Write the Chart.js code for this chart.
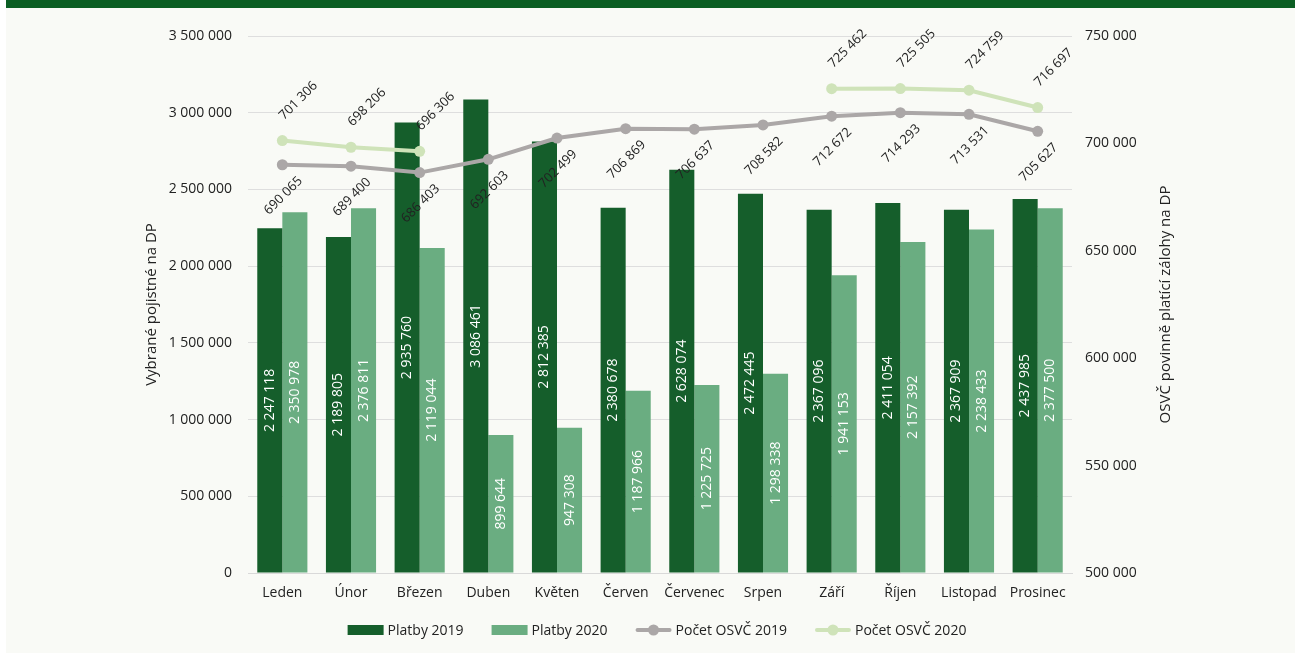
<!DOCTYPE html>
<html><head><meta charset="utf-8">
<script src="https://cdn.jsdelivr.net/npm/chart.js@4/dist/chart.umd.min.js"></script>
<style>
html,body{margin:0;padding:0;background:#fff;}
#wrap{position:absolute;left:6px;top:0;width:1289px;height:653px;background:#f9faf6;}
#band{position:absolute;left:6px;top:0;width:1289px;height:8px;background:#0b5e23;}
canvas{position:absolute;left:0;top:0;}
</style></head>
<body>
<div id="wrap"></div>
<div id="band"></div>
<canvas id="c" width="1295" height="653"></canvas>
<script>
const months = ['Leden','Únor','Březen','Duben','Květen','Červen','Červenec','Srpen','Září','Říjen','Listopad','Prosinec'];
const platby2019 = [2247118,2189805,2935760,3086461,2812385,2380678,2628074,2472445,2367096,2411054,2367909,2437985];
const platby2020 = [2350978,2376811,2119044,899644,947308,1187966,1225725,1298338,1941153,2157392,2238433,2377500];
const osvc2019 = [690065,689400,686403,692603,702499,706869,706637,708582,712672,714293,713531,705627];
const osvc2020 = [701306,698206,696306,null,null,null,null,null,725462,725505,724759,716697];
const leftTicks = [0,500000,1000000,1500000,2000000,2500000,3000000,3500000];
const rightTicks = [500000,550000,600000,650000,700000,750000];
const leftTitle = 'Vybrané pojistné na DP';
const rightTitle = 'OSVČ povinně platící zálohy na DP';

const FONT = "'Open Sans', sans-serif";
const TXT = '#222222';
const fmt = v => String(Math.round(v)).replace(/\B(?=(\d{3})+(?!\d))/g, ' ');

const labelPlugin = {
  id: 'vlabels',
  afterDatasetsDraw(chart) {
    const ctx = chart.ctx;
    ctx.save();
    chart.data.datasets.forEach((ds, di) => {
      const meta = chart.getDatasetMeta(di);
      meta.data.forEach((el, i) => {
        const v = ds.data[i];
        if (v === null || v === undefined) return;
        const txt = fmt(v);
        ctx.save();
        ctx.textAlign = 'center';
        ctx.textBaseline = 'middle';
        if (ds.type === 'bar') {
          ctx.font = '14px ' + FONT;
          ctx.fillStyle = '#ffffff';
          ctx.translate(el.x, (el.y + el.base) / 2);
          ctx.rotate(-Math.PI / 2);
        } else {
          ctx.font = '13px ' + FONT;
          ctx.fillStyle = TXT;
          const above = ds.label === 'Počet OSVČ 2020';
          if (above) ctx.translate(el.x + 16, el.y - 40);
          else ctx.translate(el.x + 1, el.y + 31);
          ctx.rotate(-Math.PI / 4);
        }
        ctx.fillText(txt, 0, 0);
        ctx.restore();
      });
    });
    ctx.restore();
  }
};

const decorPlugin = {
  id: 'decor',
  afterDraw(chart) {
    const ctx = chart.ctx;
    const ca = chart.chartArea;
    const cy = (ca.top + ca.bottom) / 2;
    ctx.save();
    ctx.font = '15px ' + FONT;
    ctx.fillStyle = TXT;
    ctx.textAlign = 'center';
    ctx.textBaseline = 'middle';
    [[152, leftTitle], [1166, rightTitle]].forEach(([x, t]) => {
      ctx.save();
      ctx.translate(x, cy);
      ctx.rotate(-Math.PI / 2);
      ctx.fillText(t, 0, 0);
      ctx.restore();
    });
    // legend
    const order = [2, 3, 0, 1];
    ctx.font = '14px ' + FONT;
    const symW = 36, gap = 4, spacing = 28;
    const items = order.map(i => {
      const ds = chart.data.datasets[i];
      return { ds, w: symW + gap + ctx.measureText(ds.label).width };
    });
    const total = items.reduce((a, it) => a + it.w, 0) + spacing * (items.length - 1);
    let x = (ca.left + ca.right) / 2 - total / 2 - 3;
    const y = 630;
    items.forEach(it => {
      const ds = it.ds;
      if (ds.type === 'bar') {
        ctx.fillStyle = ds.backgroundColor;
        ctx.fillRect(x, y - 5, symW, 10);
      } else {
        ctx.strokeStyle = ds.borderColor;
        ctx.lineWidth = 4;
        ctx.lineCap = 'round';
        ctx.beginPath();
        ctx.moveTo(x + 2, y);
        ctx.lineTo(x + symW - 2, y);
        ctx.stroke();
        ctx.fillStyle = ds.borderColor;
        ctx.beginPath();
        ctx.arc(x + symW / 2, y, 5.5, 0, Math.PI * 2);
        ctx.fill();
      }
      ctx.fillStyle = TXT;
      ctx.textAlign = 'left';
      ctx.fillText(ds.label, x + symW + gap, y + 1);
      x += it.w + spacing;
    });
    ctx.restore();
  }
};

Chart.defaults.font.family = FONT;
Chart.defaults.font.size = 14;
Chart.defaults.color = TXT;

new Chart(document.getElementById('c'), {
  data: {
    labels: months,
    datasets: [
      { type: 'line', label: 'Počet OSVČ 2019', data: osvc2019, yAxisID: 'y1', borderColor: '#aba7a7', backgroundColor: '#aba7a7', borderWidth: 4, pointRadius: 5.5, pointHoverRadius: 5.5, pointBackgroundColor: '#aba7a7', pointBorderWidth: 0, spanGaps: false, order: 1 },
      { type: 'line', label: 'Počet OSVČ 2020', data: osvc2020, yAxisID: 'y1', borderColor: '#cfe3b9', backgroundColor: '#cfe3b9', borderWidth: 4, pointRadius: 5.5, pointHoverRadius: 5.5, pointBackgroundColor: '#cfe3b9', pointBorderWidth: 0, spanGaps: false, order: 0 },
      { type: 'bar', label: 'Platby 2019', data: platby2019, yAxisID: 'y', backgroundColor: '#155e2b', borderWidth: 0, categoryPercentage: 0.73, barPercentage: 1, order: 2 },
      { type: 'bar', label: 'Platby 2020', data: platby2020, yAxisID: 'y', backgroundColor: '#6aad81', borderWidth: 0, categoryPercentage: 0.73, barPercentage: 1, order: 3 }
    ]
  },
  options: {
    responsive: false,
    animation: false,
    events: [],
    layout: { padding: { left: 140, right: 120, top: 36, bottom: 40 } },
    plugins: {
      tooltip: { enabled: false },
      legend: { display: false }
    },
    scales: {
      x: {
        afterFit(s) { s.height = 40; },
        grid: { display: false, drawTicks: false },
        border: { display: true, color: '#d9d9d9', width: 1 },
        ticks: { padding: 12, font: { size: 14 }, color: TXT, maxRotation: 0 }
      },
      y: {
        position: 'left',
        min: 0, max: 3500000,
        afterBuildTicks(s) { s.ticks = leftTicks.map(v => ({ value: v })); },
        afterFit(s) { s.width = 108; },
        grid: { color: '#dedede', lineWidth: 1, drawTicks: false },
        border: { display: false },
        ticks: { padding: 16, callback: v => fmt(v), font: { size: 14 }, color: TXT }
      },
      y1: {
        position: 'right',
        min: 500000, max: 750000,
        afterBuildTicks(s) { s.ticks = rightTicks.map(v => ({ value: v })); },
        afterFit(s) { s.width = 103; },
        grid: { display: false, drawTicks: false },
        border: { display: false },
        ticks: { padding: 13, callback: v => fmt(v), font: { size: 14 }, color: TXT }
      }
    }
  },
  plugins: [labelPlugin, decorPlugin]
});
</script>
</body></html>
